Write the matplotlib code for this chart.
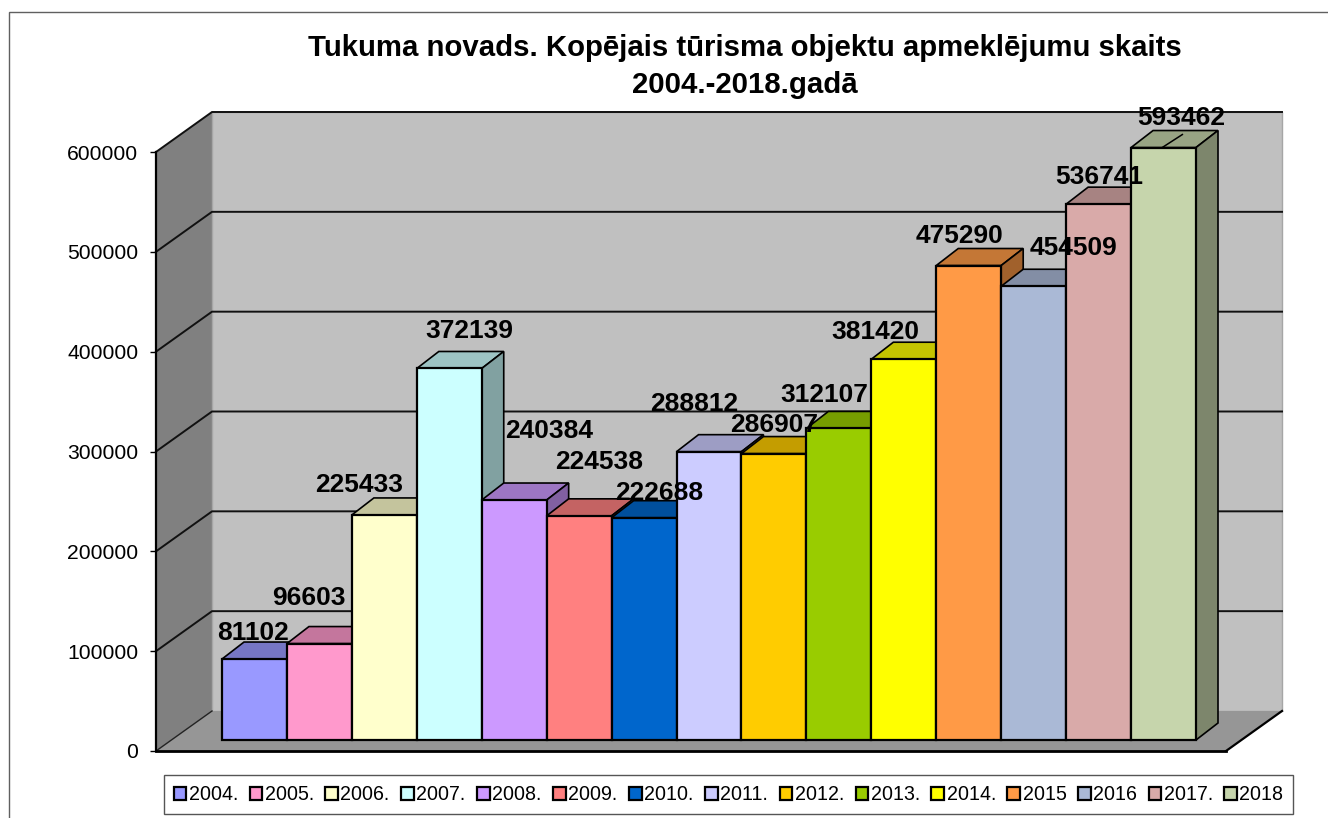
import matplotlib
matplotlib.use('Agg')
import matplotlib.pyplot as plt
from matplotlib.lines import Line2D
from matplotlib.patches import Polygon

plt.rcParams['font.family'] = ['Liberation Sans', 'DejaVu Sans']

years = ['2004.', '2005.', '2006.', '2007.', '2008.', '2009.', '2010.', '2011.',
         '2012.', '2013.', '2014.', '2015', '2016', '2017.', '2018']
visits = [81102, 96603, 225433, 372139, 240384, 224538, 222688, 288812,
          286907, 312107, 381420, 475290, 454509, 536741, 593462]
colors = ['#9999FF', '#FF99CC', '#FFFFCC', '#CCFFFF', '#CC99FF', '#FF8080', '#0066CC', '#CCCCFF',
          '#FFCC00', '#99CC00', '#FFFF00', '#FF9A46', '#AAB9D6', '#D9AAA9', '#C6D5AC']
y_ticks = [0, 100000, 200000, 300000, 400000, 500000, 600000]

# label centres relative to the middle of the bar front / top of bar, in pixels
label_dx = [-1, -11, -25, 20, 35, 20, 15, -15, 0, -15, -28, -9, 40, 1, 18]
label_dy = [26, 46, 30, 37, 69, 54, 25, 48, 29, 33, 27, 30, 38, 27, 30]

W, H = 1328, 818
PX_X = 64.93     # pixels per category
PX_Y = 599 / 600000

fig = plt.figure(figsize=(W / 100, H / 100), dpi=100)
ax = fig.add_axes([156 / W, (H - 751) / H, (1226 - 156) / W, 599 / H])
xmin = -0.5 - (222 - 156) / PX_X
xmax = 14.5 + (1226 - 1196) / PX_X
ax.set_xlim(xmin, xmax)
ax.set_ylim(0, 600000)
ax.patch.set_visible(False)

# depth of the chart box and of the bars
wall_dx, wall_dy = 56 / PX_X, 40 / PX_Y
bar_dx, bar_dy = 22 / PX_X, 17 / PX_Y
base = 11 / PX_Y


def shade(color, k):
    rgb = matplotlib.colors.to_rgb(color)
    return tuple(c * k for c in rgb)


def poly(pts, fc, lw=1.44, ec='black', z=1):
    ax.add_patch(Polygon(pts, closed=True, fc=fc, ec=ec, lw=lw, zorder=z,
                         clip_on=False, joinstyle='miter'))


# walls and floor
poly([(xmin, 0), (xmin + wall_dx, wall_dy), (xmin + wall_dx, 600000 + wall_dy), (xmin, 600000)],
     '#808080', lw=0)
poly([(xmin + wall_dx, wall_dy), (xmax + wall_dx, wall_dy),
      (xmax + wall_dx, 600000 + wall_dy), (xmin + wall_dx, 600000 + wall_dy)],
     '#C0C0C0', lw=1, ec='#A6A6A6')
poly([(xmin, 0), (xmax, 0), (xmax + wall_dx, wall_dy), (xmin + wall_dx, wall_dy)], '#969696', lw=0)

for t in y_ticks[1:]:
    ax.plot([xmin, xmin + wall_dx, xmax + wall_dx], [t, t + wall_dy, t + wall_dy],
            color='#111111', lw=1.4, clip_on=False, zorder=2, solid_joinstyle='miter')
ax.plot([xmin, xmin + wall_dx], [0, wall_dy], color='#222222', lw=1.0, zorder=2, clip_on=False)
ax.plot([xmax, xmax + wall_dx], [0, wall_dy], color='black', lw=1.6, zorder=2, clip_on=False)

# bars, left to right so the next front covers the previous side
for i, (year, v, c) in enumerate(zip(years, visits, colors)):
    z = 3 + i * 0.1
    left, right = i - 0.5, i + 0.5
    top = base + v
    poly([(left, top), (right, top), (right + bar_dx, top + bar_dy), (left + bar_dx, top + bar_dy)],
         shade(c, 0.77), lw=1.2, z=z)
    poly([(right, base), (right + bar_dx, base + bar_dy), (right + bar_dx, top + bar_dy), (right, top)],
         shade(c, 0.63), lw=1.2, z=z)
    ax.bar(i, v, width=1, bottom=base, color=c, edgecolor='black', linewidth=1.6,
           label=year, zorder=z + 0.05, clip_on=False)

# leader line of the last label
last = len(visits) - 1
ax.plot([last - 0.02, last + 0.29], [base + visits[last], base + visits[last] + 13 / PX_Y],
        color='black', lw=1.1, zorder=5, clip_on=False)

for i, v in enumerate(visits):
    ax.text(i + label_dx[i] / PX_X, base + v + label_dy[i] / PX_Y, str(v),
            fontsize=19, fontweight='bold', ha='center', va='center', zorder=6)

ax.set_xticks([])
ax.set_yticks(y_ticks)
ax.set_yticklabels([str(t) for t in y_ticks])
ax.tick_params(axis='y', length=4.3, width=1.0, pad=8.5, labelsize=15.2)
for side in ['top', 'right']:
    ax.spines[side].set_visible(False)
ax.spines['left'].set_linewidth(1.6)
ax.spines['bottom'].set_linewidth(2.0)
ax.spines['left'].set_zorder(3)
ax.spines['bottom'].set_zorder(3)

fig.text(745 / W, 1 - 48 / H, 'Tukuma novads. Kopējais tūrisma objektu apmeklējumu skaits',
         fontsize=21.2, fontweight='bold', ha='center', va='center')
fig.text(745 / W, 1 - 85 / H, '2004.-2018.gadā',
         fontsize=21.2, fontweight='bold', ha='center', va='center')

leg = fig.legend(loc='center', bbox_to_anchor=(728.5 / W, 1 - 794.5 / H), ncol=15, fontsize=14.1,
                 handlelength=0.65, handleheight=0.65, handletextpad=0.12, columnspacing=0.59,
                 borderpad=0.5, fancybox=False, framealpha=1, edgecolor='#555555')
leg.get_frame().set_linewidth(1.0)

# chart border: only the top and left edges fall inside the picture
fig.add_artist(Line2D([9 / W, 9 / W, 1], [0, 1 - 12 / H, 1 - 12 / H], transform=fig.transFigure,
                      color='#606060', lw=1.0, solid_joinstyle='miter'))

fig.savefig('out.png', dpi=100)
